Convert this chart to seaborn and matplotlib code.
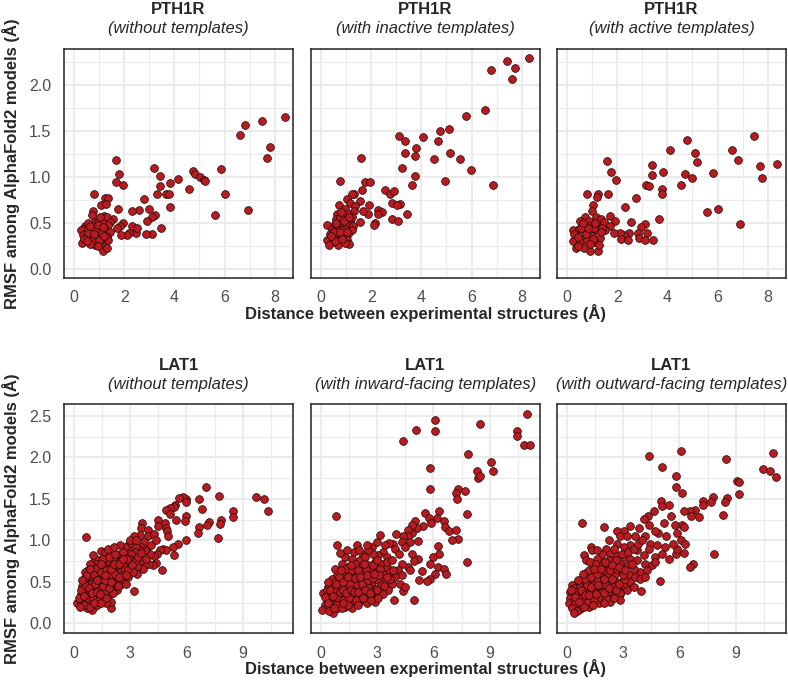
import matplotlib
matplotlib.use("Agg")
import matplotlib.pyplot as plt
import seaborn as sns
import pandas as pd
from matplotlib.ticker import MultipleLocator, FormatStrFormatter

# ---- data (distance, rmsf) ----
pth1r_none = [
    (8.40, 1.65), (7.49, 1.61), (6.83, 1.56), (6.61, 1.46), (7.81, 1.33), (7.71, 1.21),
    (5.84, 1.09), (6.03, 0.82), (6.95, 0.64), (5.63, 0.59), (4.75, 1.06), (4.84, 1.03),
    (5.01, 1.00), (5.17, 0.97), (5.23, 0.96), (4.57, 0.87), (4.13, 0.98), (3.84, 0.93),
    (3.41, 0.90), (3.41, 1.01), (3.17, 1.10), (3.29, 0.81), (3.68, 0.81), (3.79, 0.81),
    (3.81, 0.67), (2.79, 0.76), (2.97, 0.65), (3.23, 0.59), (3.12, 0.57), (2.89, 0.52),
    (2.59, 0.64), (2.32, 0.63), (3.45, 0.44), (3.12, 0.38), (2.85, 0.38), (2.49, 0.39),
    (2.19, 0.39), (2.11, 0.37), (1.89, 0.37), (2.32, 0.47), (2.51, 0.45), (1.97, 0.50),
    (1.77, 0.65), (1.67, 1.18), (1.80, 1.03), (1.67, 0.95), (1.97, 0.91), (0.81, 0.82),
    (1.25, 0.77), (1.35, 0.77), (1.07, 0.70), (1.28, 0.71), (0.77, 0.63), (0.72, 0.59),
    (1.20, 0.58), (1.31, 0.56), (1.57, 0.54), (1.44, 0.51), (0.85, 0.51), (0.97, 0.51),
    (1.17, 0.50), (1.37, 0.48), (1.84, 0.47), (1.73, 0.45), (0.45, 0.47), (0.37, 0.43),
    (0.27, 0.42), (0.57, 0.43), (0.77, 0.42), (1.01, 0.42), (1.24, 0.43), (1.44, 0.40),
    (0.35, 0.37), (0.51, 0.36), (0.71, 0.34), (0.91, 0.36), (1.11, 0.34), (1.31, 0.35),
    (0.31, 0.28), (0.67, 0.31), (0.85, 0.26), (1.04, 0.29), (1.25, 0.25), (1.37, 0.31),
    (1.17, 0.19), (1.31, 0.23), (0.77, 0.31), (0.57, 0.39), (0.91, 0.45), (1.11, 0.39),
    (1.01, 0.32), (0.64, 0.27), (0.55, 0.50), (0.65, 0.47), (0.95, 0.48), (1.15, 0.46),
    (0.40, 0.33), (0.80, 0.38), (1.20, 0.36), (0.95, 0.25), (0.50, 0.30), (1.05, 0.56),
]
pth1r_inactive = [
    (8.31, 2.29), (7.41, 2.26), (7.73, 2.18), (6.77, 2.16), (7.62, 2.06), (6.55, 1.73),
    (5.76, 1.66), (5.09, 1.52), (4.75, 1.50), (4.67, 1.39), (4.06, 1.43), (3.11, 1.45),
    (3.36, 1.39), (3.78, 1.31), (3.35, 1.26), (3.76, 1.23), (4.52, 1.19), (5.15, 1.26),
    (5.56, 1.19), (5.96, 1.08), (6.85, 0.91), (4.95, 0.96), (3.76, 1.01), (3.61, 0.91),
    (3.24, 1.10), (1.61, 1.21), (0.77, 0.96), (1.75, 0.94), (1.94, 0.94), (1.63, 0.86),
    (2.54, 0.86), (2.74, 0.82), (2.92, 0.85), (2.84, 0.72), (3.16, 0.71), (3.03, 0.69),
    (3.41, 0.60), (2.82, 0.54), (3.05, 0.52), (2.28, 0.64), (2.44, 0.62), (2.26, 0.60),
    (2.15, 0.50), (2.10, 0.48), (1.91, 0.70), (1.86, 0.60), (1.55, 0.74), (1.55, 0.51),
    (1.31, 0.82), (1.22, 0.81), (1.02, 0.76), (1.16, 0.72), (0.72, 0.69), (1.35, 0.68),
    (0.96, 0.65), (1.33, 0.63), (0.65, 0.60), (1.09, 0.60), (1.69, 0.63), (0.89, 0.58),
    (0.58, 0.54), (0.82, 0.52), (1.16, 0.52), (0.24, 0.48), (1.02, 0.48), (1.29, 0.47),
    (0.42, 0.43), (0.69, 0.45), (0.96, 0.43), (1.22, 0.42), (0.36, 0.38), (0.62, 0.38),
    (0.89, 0.36), (1.09, 0.38), (0.49, 0.34), (0.76, 0.32), (1.02, 0.32), (0.25, 0.31),
    (0.42, 0.29), (0.66, 0.30), (0.33, 0.26), (0.66, 0.26), (1.13, 0.27), (0.96, 0.28),
    (0.82, 0.42), (0.56, 0.49), (0.76, 0.56), (1.25, 0.57), (0.50, 0.40), (0.75, 0.40),
    (1.05, 0.40), (0.55, 0.30), (0.85, 0.33), (0.60, 0.50), (0.90, 0.52), (1.10, 0.56),
    (0.40, 0.36), (0.80, 0.62),
]
pth1r_active = [
    (7.47, 1.45), (8.36, 1.14), (7.68, 1.12), (7.77, 0.99), (6.57, 1.29), (6.80, 1.18),
    (5.80, 1.04), (4.79, 1.40), (5.12, 1.26), (5.19, 1.16), (4.69, 1.03), (4.99, 0.99),
    (4.53, 0.91), (4.11, 1.29), (3.81, 1.05), (3.39, 1.13), (3.39, 1.02), (3.15, 0.91),
    (3.28, 0.90), (3.79, 0.87), (3.79, 0.81), (2.76, 0.77), (2.31, 0.67), (5.60, 0.62),
    (6.00, 0.65), (6.89, 0.49), (3.65, 0.54), (2.56, 0.51), (3.09, 0.49), (2.93, 0.46),
    (2.83, 0.39), (3.19, 0.39), (2.85, 0.34), (3.09, 0.32), (3.44, 0.32), (2.48, 0.39),
    (2.29, 0.37), (2.13, 0.39), (2.16, 0.33), (2.45, 0.31), (1.87, 0.39), (1.61, 1.17),
    (1.76, 1.05), (1.95, 0.97), (0.79, 0.81), (1.23, 0.81), (1.21, 0.78), (1.64, 0.82),
    (1.04, 0.69), (1.01, 0.63), (0.71, 0.57), (0.53, 0.52), (0.87, 0.52), (1.15, 0.57),
    (1.36, 0.54), (1.73, 0.58), (1.93, 0.52), (1.49, 0.51), (1.73, 0.47), (1.20, 0.48),
    (0.24, 0.42), (0.47, 0.43), (0.67, 0.42), (0.93, 0.40), (1.20, 0.42), (1.53, 0.42),
    (0.40, 0.36), (0.67, 0.34), (1.00, 0.36), (1.33, 0.34), (0.24, 0.30), (0.53, 0.29),
    (0.80, 0.31), (1.13, 0.29), (0.35, 0.23), (0.67, 0.23), (0.93, 0.20), (1.23, 0.20),
    (1.27, 0.26), (0.87, 0.47), (1.07, 0.45), (1.40, 0.45), (0.27, 0.38), (0.45, 0.35),
    (0.75, 0.38), (1.05, 0.33), (0.55, 0.45), (0.85, 0.44), (1.10, 0.50), (0.45, 0.25),
    (0.90, 0.27), (1.35, 0.40), (0.65, 0.50),
]
lat1_none = [
    (10.37, 1.36), (10.12, 1.50), (9.70, 1.52), (8.46, 1.35), (8.48, 1.28), (7.82, 1.25),
    (7.79, 1.20), (7.68, 1.03), (7.75, 1.54), (7.04, 1.64), (6.65, 1.50), (6.83, 1.38),
    (7.19, 1.22), (7.12, 1.19), (6.65, 1.16), (6.62, 1.09), (5.95, 1.50), (5.84, 1.52),
    (5.59, 1.51), (5.98, 1.46), (5.38, 1.43), (5.36, 1.40), (5.10, 1.39), (4.92, 1.37),
    (5.10, 1.32), (4.50, 1.25), (4.88, 1.21), (5.42, 1.24), (5.95, 1.29), (5.91, 1.23),
    (4.50, 1.17), (4.92, 1.15), (4.96, 1.11), (5.01, 1.05), (3.65, 1.21), (3.58, 1.15),
    (3.96, 1.13), (3.95, 1.05), (4.25, 1.08), (3.50, 1.07), (3.19, 1.05), (5.98, 1.00),
    (5.56, 0.96), (5.27, 0.92), (5.33, 0.82), (4.74, 0.90), (4.92, 0.88), (4.57, 0.88),
    (4.42, 0.84), (4.25, 0.81), (4.04, 0.84), (3.89, 0.92), (3.72, 0.98), (3.77, 0.88),
    (3.59, 0.92), (3.50, 0.88), (3.33, 0.92), (3.24, 0.86), (2.94, 0.96), (2.88, 0.88),
    (3.06, 0.84), (4.35, 0.73), (4.21, 0.70), (4.00, 0.72), (3.77, 0.70), (3.59, 0.76),
    (3.68, 0.66), (3.36, 0.68), (4.71, 0.64), (3.36, 0.59), (3.19, 0.39), (0.64, 1.04),
    (1.45, 0.87), (2.71, 0.80), (2.44, 0.84), (2.53, 0.76), (2.27, 0.74), (2.09, 0.78),
    (1.91, 0.72), (1.73, 0.74), (1.35, 0.76), (1.10, 0.78), (1.56, 0.70), (2.97, 0.72),
    (2.80, 0.68), (2.62, 0.70), (2.35, 0.66), (2.09, 0.64), (1.82, 0.66), (1.38, 0.68),
    (1.17, 0.72), (0.76, 0.64), (1.03, 0.62), (1.29, 0.60), (1.56, 0.61), (1.91, 0.59),
    (2.27, 0.61), (2.62, 0.60), (2.88, 0.56), (2.53, 0.52), (2.18, 0.54), (1.82, 0.52),
    (1.47, 0.54), (1.12, 0.52), (0.76, 0.54), (0.67, 0.48), (1.03, 0.46), (1.38, 0.48),
    (1.73, 0.46), (2.09, 0.44), (2.44, 0.46), (2.80, 0.48), (2.27, 0.40), (1.91, 0.38),
    (1.56, 0.40), (1.20, 0.41), (0.85, 0.40), (0.53, 0.38), (0.41, 0.32), (0.76, 0.32),
    (1.12, 0.34), (1.47, 0.32), (1.82, 0.33), (2.09, 0.36), (0.14, 0.24), (0.50, 0.26),
    (0.85, 0.25), (1.20, 0.26), (1.56, 0.28), (0.67, 0.18), (1.12, 0.21), (1.95, 0.19),
    (0.94, 0.16), (2.00, 0.26), (1.73, 0.24), (0.32, 0.28), (0.58, 0.42), (0.94, 0.56),
    (1.20, 0.56), (1.73, 0.56), (2.09, 0.70), (2.44, 0.62), (3.15, 0.62), (2.97, 0.78),
    (3.29, 0.76), (2.71, 0.92), (2.48, 0.94), (1.03, 0.68), (1.65, 0.86), (1.91, 0.82),
    (0.45, 0.45), (0.60, 0.55), (0.90, 0.47), (1.05, 0.38), (1.30, 0.44), (1.50, 0.50),
    (1.65, 0.38), (1.90, 0.48), (2.15, 0.52), (2.35, 0.45), (0.35, 0.35), (0.70, 0.30),
    (1.00, 0.30), (1.35, 0.28), (1.70, 0.30), (0.55, 0.22), (0.85, 0.20), (1.25, 0.22),
    (0.95, 0.62), (1.20, 0.66), (1.45, 0.62), (1.70, 0.64), (2.00, 0.58), (2.30, 0.56),
    (2.55, 0.58), (2.70, 0.66), (2.90, 0.64), (1.55, 0.78), (1.85, 0.80), (2.20, 0.84),
    (2.60, 0.86), (2.85, 0.78), (3.10, 0.70), (3.40, 0.80), (3.55, 0.85), (3.85, 0.78),
    (4.10, 0.95), (4.40, 1.00), (1.00, 0.82), (0.85, 0.72), (0.60, 0.62), (1.80, 0.90),
    (2.15, 0.92), (3.00, 1.00), (3.30, 1.00), (0.25, 0.30), (0.40, 0.40), (0.55, 0.33),
    (0.62, 0.45), (0.78, 0.43), (0.95, 0.36), (1.10, 0.47), (1.25, 0.38), (1.40, 0.35),
    (1.55, 0.45), (1.68, 0.52), (1.85, 0.43), (2.00, 0.50), (2.20, 0.60), (2.40, 0.56),
    (0.70, 0.58), (0.88, 0.66), (1.08, 0.58), (1.25, 0.52), (1.45, 0.72), (1.65, 0.58),
    (1.95, 0.66), (2.15, 0.72), (2.40, 0.72), (2.60, 0.78), (2.75, 0.58), (0.45, 0.52),
    (0.30, 0.20), (1.05, 0.25), (1.45, 0.24),
]
lat1_inward = [
    (11.00, 2.53), (8.49, 2.40), (6.09, 2.45), (6.10, 2.32), (5.05, 2.33), (4.40, 2.20),
    (10.48, 2.32), (10.48, 2.26), (10.85, 2.15), (11.14, 2.15), (7.86, 2.04), (9.09, 1.94),
    (9.18, 1.84), (8.33, 1.84), (8.36, 1.75), (8.47, 1.78), (5.80, 1.87), (5.84, 1.62),
    (7.31, 1.62), (7.22, 1.57), (7.67, 1.59), (7.24, 1.50), (7.79, 1.32), (6.30, 1.35),
    (5.55, 1.33), (6.17, 1.27), (5.77, 1.27), (5.87, 1.21), (6.57, 1.23), (5.04, 1.23),
    (5.43, 1.17), (5.12, 1.15), (6.62, 1.16), (6.85, 1.11), (7.19, 1.13), (7.30, 1.02),
    (7.01, 1.00), (7.81, 0.74), (6.23, 0.93), (6.32, 0.83), (6.00, 0.80), (5.82, 0.72),
    (6.26, 0.68), (6.55, 0.65), (6.67, 0.60), (6.09, 0.60), (5.41, 0.63), (5.80, 0.53),
    (5.64, 0.51), (5.23, 0.52), (4.95, 0.28), (4.84, 1.19), (4.84, 1.09), (4.66, 1.13),
    (4.63, 1.05), (5.16, 0.99), (4.77, 0.98), (4.40, 1.05), (4.02, 1.08), (4.31, 0.98),
    (3.86, 0.96), (3.65, 0.97), (3.13, 1.07), (3.95, 0.90), (4.16, 0.84), (4.48, 0.92),
    (4.84, 0.84), (5.20, 0.78), (4.98, 0.75), (4.66, 0.68), (4.75, 0.64), (4.31, 0.72),
    (4.13, 0.64), (4.31, 0.58), (4.22, 0.48), (4.40, 0.39), (4.48, 0.44), (3.95, 0.56),
    (3.77, 0.48), (3.91, 0.28), (0.80, 1.29), (0.87, 0.94), (1.94, 0.94), (2.70, 0.92),
    (2.97, 0.98), (3.33, 0.86), (3.51, 0.80), (3.06, 0.82), (2.79, 0.84), (2.53, 0.88),
    (2.26, 0.82), (2.08, 0.76), (1.28, 0.80), (1.64, 0.78), (0.75, 0.66), (1.10, 0.72),
    (1.46, 0.68), (1.81, 0.72), (2.17, 0.68), (2.53, 0.70), (2.88, 0.74), (3.24, 0.72),
    (3.51, 0.68), (3.68, 0.62), (3.33, 0.60), (2.97, 0.62), (2.62, 0.60), (2.26, 0.62),
    (1.90, 0.60), (1.55, 0.61), (1.19, 0.60), (0.84, 0.58), (0.57, 0.54), (0.93, 0.52),
    (1.28, 0.53), (1.64, 0.52), (1.99, 0.51), (2.35, 0.52), (2.70, 0.50), (3.06, 0.52),
    (3.42, 0.50), (3.68, 0.54), (3.59, 0.40), (3.24, 0.42), (2.88, 0.41), (2.53, 0.44),
    (2.17, 0.42), (1.81, 0.44), (1.46, 0.42), (1.10, 0.44), (0.75, 0.42), (0.39, 0.44),
    (0.12, 0.37), (0.48, 0.36), (0.84, 0.35), (1.19, 0.34), (1.55, 0.35), (1.90, 0.33),
    (2.26, 0.34), (2.62, 0.32), (2.97, 0.33), (3.33, 0.35), (2.88, 0.26), (2.44, 0.24),
    (2.08, 0.27), (1.73, 0.24), (1.37, 0.26), (1.01, 0.24), (0.66, 0.26), (0.30, 0.28),
    (0.21, 0.22), (0.57, 0.20), (0.93, 0.18), (1.28, 0.20), (1.64, 0.19), (0.07, 0.16),
    (0.66, 0.13), (0.39, 0.30), (0.75, 0.30), (1.28, 0.48), (1.73, 0.46), (2.17, 0.58),
    (2.70, 0.64), (3.15, 0.66), (3.51, 0.74), (3.77, 0.76), (3.42, 0.94), (2.35, 0.80),
    (0.30, 0.40), (0.55, 0.45), (0.70, 0.50), (1.00, 0.48), (1.35, 0.46), (1.55, 0.48),
    (1.90, 0.46), (2.20, 0.48), (2.50, 0.52), (2.80, 0.55), (3.10, 0.58), (0.45, 0.30),
    (0.90, 0.30), (1.15, 0.28), (1.50, 0.30), (1.85, 0.28), (2.25, 0.30), (2.65, 0.28),
    (3.05, 0.30), (0.35, 0.20), (0.80, 0.22), (1.10, 0.18), (1.45, 0.22), (0.45, 0.15),
    (0.95, 0.56), (1.30, 0.66), (1.65, 0.64), (2.00, 0.64), (2.40, 0.66), (2.75, 0.70),
    (3.00, 0.76), (1.00, 0.85), (1.40, 0.88), (1.75, 0.86), (2.45, 0.94), (2.05, 0.88),
    (3.20, 0.46), (3.50, 0.56), (3.85, 0.64), (0.60, 0.38), (0.20, 0.32), (0.35, 0.25),
    (0.50, 0.40), (0.65, 0.33), (0.85, 0.40), (1.00, 0.38), (1.20, 0.40), (1.35, 0.36),
    (1.60, 0.40), (1.75, 0.38), (2.00, 0.38), (2.35, 0.40), (2.70, 0.38), (3.00, 0.40),
    (0.40, 0.50), (0.80, 0.48), (1.15, 0.50), (1.45, 0.56), (1.80, 0.55), (2.10, 0.56),
    (2.45, 0.58), (2.85, 0.60), (1.05, 0.64), (1.60, 0.70), (2.30, 0.72), (0.70, 0.18),
    (1.20, 0.24), (1.95, 0.22), (2.60, 0.36), (3.35, 0.45),
]
lat1_outward = [
    (10.99, 2.06), (6.06, 2.08), (4.40, 2.02), (8.49, 1.98), (5.06, 1.88), (5.81, 1.78),
    (5.84, 1.64), (6.11, 1.57), (10.48, 1.86), (10.85, 1.84), (11.14, 1.76), (9.08, 1.72),
    (9.19, 1.70), (9.15, 1.56), (8.53, 1.51), (8.44, 1.46), (8.31, 1.31), (7.80, 1.52),
    (7.67, 1.46), (7.28, 1.48), (7.23, 1.43), (7.02, 1.28), (6.84, 1.37), (6.57, 1.35),
    (6.64, 1.29), (6.22, 1.35), (7.82, 0.83), (6.70, 0.72), (6.57, 0.68), (0.82, 1.21),
    (1.97, 1.16), (4.94, 0.51), (3.94, 0.39), (5.04, 1.47), (5.08, 1.41), (5.45, 1.43),
    (4.64, 1.35), (4.30, 1.29), (4.09, 1.26), (5.54, 1.29), (5.17, 1.21), (5.76, 1.19),
    (6.13, 1.19), (6.25, 1.16), (5.86, 1.09), (6.07, 1.00), (6.30, 0.96), (6.25, 0.85),
    (5.79, 0.84), (5.86, 0.90), (5.68, 0.96), (5.42, 0.78), (5.29, 1.05), (4.88, 1.09),
    (4.67, 1.11), (3.82, 1.15), (3.37, 1.17), (3.06, 1.11), (2.66, 1.11), (2.81, 1.05),
    (3.20, 1.05), (3.64, 1.05), (4.17, 1.05), (4.44, 0.96), (4.80, 0.94), (5.24, 0.92),
    (5.06, 0.84), (4.71, 0.80), (4.35, 0.90), (4.09, 0.82), (3.73, 0.88), (3.37, 0.94),
    (3.02, 0.92), (2.66, 0.96), (2.22, 1.00), (2.10, 0.90), (1.30, 0.92), (1.33, 0.88),
    (0.89, 0.82), (1.03, 0.76), (1.81, 0.76), (2.31, 0.84), (2.66, 0.82), (3.02, 0.80),
    (3.37, 0.78), (3.73, 0.76), (4.17, 0.72), (4.53, 0.70), (4.71, 0.74), (4.26, 0.64),
    (3.91, 0.62), (3.55, 0.66), (3.20, 0.70), (2.84, 0.72), (2.49, 0.70), (2.13, 0.68),
    (1.69, 0.70), (1.33, 0.66), (1.07, 0.62), (1.42, 0.58), (1.78, 0.60), (2.22, 0.58),
    (2.58, 0.60), (2.93, 0.62), (3.29, 0.58), (3.64, 0.56), (3.37, 0.50), (3.02, 0.52),
    (2.66, 0.50), (2.31, 0.48), (1.95, 0.50), (1.60, 0.52), (1.24, 0.50), (0.89, 0.48),
    (0.62, 0.42), (0.98, 0.41), (1.33, 0.42), (1.69, 0.41), (2.04, 0.42), (2.40, 0.40),
    (2.75, 0.42), (3.11, 0.44), (2.84, 0.35), (2.49, 0.34), (2.13, 0.35), (1.78, 0.33),
    (1.42, 0.34), (1.07, 0.32), (0.71, 0.34), (0.36, 0.36), (0.14, 0.38), (0.18, 0.30),
    (0.53, 0.28), (0.89, 0.26), (1.24, 0.28), (1.60, 0.26), (1.95, 0.28), (2.31, 0.26),
    (1.69, 0.24), (1.33, 0.22), (0.98, 0.22), (0.62, 0.20), (0.27, 0.22), (0.09, 0.24),
    (0.44, 0.18), (0.71, 0.17), (1.15, 0.20), (2.81, 0.36), (2.81, 0.28), (3.20, 0.40),
    (3.55, 0.44), (3.91, 0.54), (4.17, 0.56), (1.87, 0.84), (1.60, 0.78), (1.15, 0.56),
    (0.80, 0.54), (0.53, 0.48), (0.27, 0.46), (0.35, 0.28), (0.55, 0.36), (0.80, 0.38),
    (1.15, 0.38), (1.50, 0.38), (1.85, 0.38), (2.20, 0.38), (0.40, 0.42), (0.70, 0.44),
    (1.05, 0.46), (1.40, 0.46), (1.75, 0.46), (2.10, 0.46), (2.45, 0.44), (0.95, 0.54),
    (1.30, 0.56), (1.60, 0.60), (1.95, 0.64), (2.30, 0.64), (2.65, 0.66), (0.45, 0.24),
    (0.80, 0.30), (1.10, 0.26), (1.45, 0.28), (1.80, 0.30), (2.10, 0.30), (2.50, 0.30),
    (0.25, 0.18), (0.55, 0.15), (1.25, 0.74), (1.55, 0.72), (1.90, 0.72), (2.25, 0.76),
    (2.60, 0.76), (2.95, 0.84), (3.25, 0.86), (3.55, 0.90), (2.50, 0.90), (1.60, 0.88),
    (3.80, 0.96), (4.00, 1.00), (4.35, 1.18), (0.20, 0.40), (0.45, 0.32), (0.62, 0.26),
    (0.75, 0.40), (0.95, 0.34), (1.20, 0.34), (1.30, 0.44), (1.55, 0.35), (1.65, 0.46),
    (1.95, 0.36), (2.00, 0.54), (2.25, 0.42), (2.40, 0.54), (2.60, 0.40), (2.80, 0.48),
    (3.00, 0.58), (0.60, 0.52), (0.85, 0.60), (1.15, 0.64), (1.45, 0.66), (1.80, 0.66),
    (2.05, 0.74), (2.40, 0.70), (2.75, 0.68), (3.10, 0.64), (3.45, 0.72), (0.35, 0.12),
    (0.90, 0.20), (1.40, 0.22), (2.00, 0.24),
]

proteins = ["PTH1R", "PTH1R", "PTH1R", "LAT1", "LAT1", "LAT1"]
conditions = ["(without templates)", "(with inactive templates)", "(with active templates)",
              "(without templates)", "(with inward-facing templates)",
              "(with outward-facing templates)"]
panels = [pth1r_none, pth1r_inactive, pth1r_active, lat1_none, lat1_inward, lat1_outward]

rows = []
for i, pts in enumerate(panels):
    for x, y in pts:
        rows.append({"panel": i, "distance": x, "rmsf": y})
df = pd.DataFrame(rows)

sns.set_theme(style="white")
plt.rcParams["font.family"] = ["Liberation Sans", "DejaVu Sans"]

W, H = 788, 687
fig = plt.figure(figsize=(W / 100, H / 100), dpi=100)

# panel geometry in pixels (left edges, top edges, size)
lefts = [64, 311, 557]
tops = [49, 404]
aw, ah = 229, 229

xlims = [(-0.40, 8.73), (-0.53, 11.68)]
ylims = [(-0.098, 2.39), (-0.117, 2.645)]
xmaj = [2, 3]

for i in range(6):
    r, c = divmod(i, 3)
    ax = fig.add_axes([lefts[c] / W, 1 - (tops[r] + ah) / H, aw / W, ah / H])
    sub = df[df["panel"] == i]
    sns.scatterplot(data=sub, x="distance", y="rmsf", ax=ax, s=31,
                    color="#B81B20", edgecolor="#2a0808", linewidth=0.55, zorder=3)
    ax.set_xlim(*xlims[r])
    ax.set_ylim(*ylims[r])
    ax.xaxis.set_major_locator(MultipleLocator(xmaj[r]))
    ax.xaxis.set_minor_locator(MultipleLocator(xmaj[r] / 2))
    ax.yaxis.set_major_locator(MultipleLocator(0.5))
    ax.yaxis.set_minor_locator(MultipleLocator(0.25))
    ax.xaxis.set_major_formatter(FormatStrFormatter("%d"))
    ax.yaxis.set_major_formatter(FormatStrFormatter("%.1f"))
    ax.grid(which="major", color="#EBEBEB", linewidth=1.5, zorder=0)
    ax.grid(which="minor", color="#EBEBEB", linewidth=0.8, zorder=0)
    ax.set_axisbelow(True)
    for sp in ax.spines.values():
        sp.set_color("#222222")
        sp.set_linewidth(1.1)
    ax.tick_params(which="both", length=0, labelsize=11.5, labelcolor="#4D4D4D", pad=9)
    ax.set_xlabel("")
    ax.set_ylabel("")
    if c > 0:
        ax.tick_params(labelleft=False)

    ax.text(0.5, 1 + 39 / ah, proteins[i], transform=ax.transAxes, ha="center",
            va="center", fontsize=12, fontweight="bold")
    ax.text(0.5, 1 + 20 / ah, conditions[i], transform=ax.transAxes, ha="center",
            va="center", fontsize=12, style="italic")

    if c == 0:
        ax.set_ylabel("RMSF among AlphaFold2 models (Å)", fontsize=12, fontweight="bold")
        ax.yaxis.set_label_coords(-53 / aw, 0.5)
        ax.yaxis.label.set_va("center")
    if c == 1:
        ax.set_xlabel("Distance between experimental structures (Å)", fontsize=12,
                      fontweight="bold")
        ax.xaxis.set_label_coords(0.5, -35 / ah)
        ax.xaxis.label.set_va("center")

fig.savefig("out.png", dpi=100)
